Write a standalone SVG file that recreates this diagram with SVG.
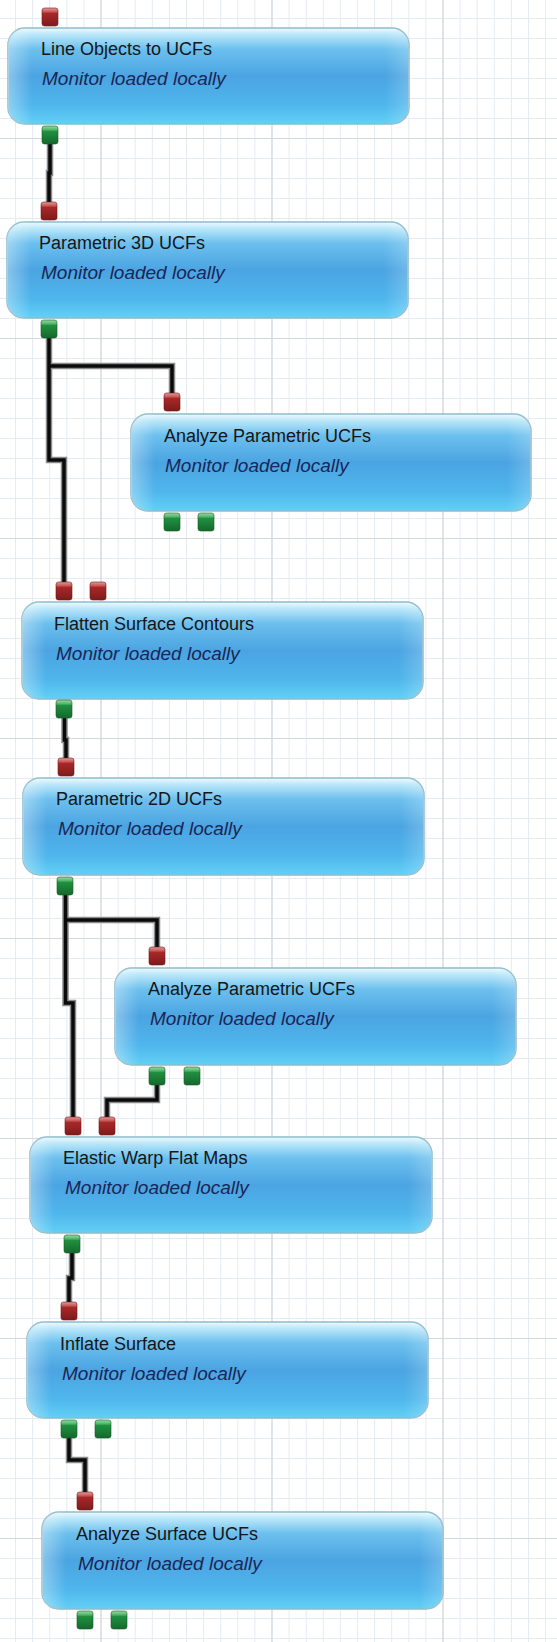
<svg xmlns="http://www.w3.org/2000/svg" width="557" height="1642" viewBox="0 0 557 1642">
  <defs>
    <pattern id="grid" patternUnits="userSpaceOnUse" x="15" y="18" width="17.1" height="20">
      <path d="M0 0.5 H17.1 M0.5 0 V20" stroke="#e4ebf1" stroke-width="1" fill="none"/>
    </pattern>
    <linearGradient id="boxFill" x1="0" y1="0" x2="0" y2="1">
      <stop offset="0" stop-color="#eefafe"/>
      <stop offset="0.07" stop-color="#b9e6f9"/>
      <stop offset="0.22" stop-color="#6cc0ee"/>
      <stop offset="0.5" stop-color="#4ba4e2"/>
      <stop offset="0.8" stop-color="#4fb6ec"/>
      <stop offset="1" stop-color="#62d0f6"/>
    </linearGradient>
    <linearGradient id="boxSide" x1="0" y1="0" x2="1" y2="0">
      <stop offset="0" stop-color="#ffffff" stop-opacity="0.35"/>
      <stop offset="0.06" stop-color="#ffffff" stop-opacity="0"/>
      <stop offset="0.94" stop-color="#ffffff" stop-opacity="0"/>
      <stop offset="1" stop-color="#ffffff" stop-opacity="0.2"/>
    </linearGradient>
    <linearGradient id="redPin" x1="0" y1="0" x2="0" y2="1">
      <stop offset="0" stop-color="#e49a9a"/>
      <stop offset="0.22" stop-color="#c45454"/>
      <stop offset="0.3" stop-color="#a82828"/>
      <stop offset="1" stop-color="#7e1b1b"/>
    </linearGradient>
    <linearGradient id="greenPin" x1="0" y1="0" x2="0" y2="1">
      <stop offset="0" stop-color="#9ad8a4"/>
      <stop offset="0.22" stop-color="#4fb566"/>
      <stop offset="0.3" stop-color="#1f9040"/>
      <stop offset="1" stop-color="#15682c"/>
    </linearGradient>
  </defs>
  <style>
    .box { fill: url(#boxFill); stroke: #8fbccb; stroke-width: 1.5; }
    .sheen { fill: url(#boxSide); stroke: none; }
    .title { font-family: "Liberation Sans", Arial, sans-serif; font-size: 18px; fill: #161616; }
    .sub { font-family: "Liberation Sans", Arial, sans-serif; font-size: 19px; font-style: italic; fill: #1b2656; }
    .pin-in { fill: url(#redPin); stroke: #6e1818; stroke-width: 0.6; }
    .pin-out { fill: url(#greenPin); stroke: #145c27; stroke-width: 0.6; }
    .wire-bg { fill: none; stroke: #8a8a8a; stroke-width: 6.5; stroke-linejoin: miter; }
    .wire { fill: none; stroke: #0a0a0a; stroke-width: 3.5; stroke-linejoin: miter; }
    .major { stroke: #d2d8dd; stroke-width: 1.2; }
  </style>

  <rect x="0" y="0" width="557" height="1642" fill="#ffffff"/>
  <rect x="0" y="0" width="557" height="1642" fill="url(#grid)"/>
  <g id="grid-major">
    <line class="major" x1="101" y1="0" x2="101" y2="1642"/>
    <line class="major" x1="272" y1="0" x2="272" y2="1642"/>
    <line class="major" x1="443" y1="0" x2="443" y2="1642"/>
    <line class="major" x1="0" y1="138.5" x2="557" y2="138.5"/>
    <line class="major" x1="0" y1="338.5" x2="557" y2="338.5"/>
    <line class="major" x1="0" y1="538.5" x2="557" y2="538.5"/>
    <line class="major" x1="0" y1="738.5" x2="557" y2="738.5"/>
    <line class="major" x1="0" y1="938.5" x2="557" y2="938.5"/>
    <line class="major" x1="0" y1="1138.5" x2="557" y2="1138.5"/>
    <line class="major" x1="0" y1="1338.5" x2="557" y2="1338.5"/>
    <line class="major" x1="0" y1="1538.5" x2="557" y2="1538.5"/>
  </g>

  <g id="connectors">
    <path class="wire-bg" d="M50 144 V173 H49 V202"/>
    <path class="wire" d="M50 144 V173 H49 V202"/>
    <path class="wire-bg" d="M49 338 V460 H64 V582 M49 366 H172 V393"/>
    <path class="wire" d="M49 338 V460 H64 V582 M49 366 H172 V393"/>
    <path class="wire-bg" d="M64.5 718 V740 H66 V758"/>
    <path class="wire" d="M64.5 718 V740 H66 V758"/>
    <path class="wire-bg" d="M65.5 895 V1003 H73 V1117 M65.5 920 H157 V947"/>
    <path class="wire" d="M65.5 895 V1003 H73 V1117 M65.5 920 H157 V947"/>
    <path class="wire-bg" d="M157 1085 V1100 H107 V1117"/>
    <path class="wire" d="M157 1085 V1100 H107 V1117"/>
    <path class="wire-bg" d="M72 1252 V1278 H69 V1302"/>
    <path class="wire" d="M72 1252 V1278 H69 V1302"/>
    <path class="wire-bg" d="M69 1438 V1460 H85 V1492"/>
    <path class="wire" d="M69 1438 V1460 H85 V1492"/>
  </g>

  <g id="node-line-objects">
    <rect class="pin-in" x="42" y="8" width="16" height="18" rx="2.5"/>
    <rect class="box" x="8" y="28" width="401" height="96" rx="17"/>
    <rect class="sheen" x="8" y="28" width="401" height="96" rx="17"/>
    <rect class="pin-out" x="42" y="126" width="16" height="18" rx="2.5"/>
    <text class="title" x="41" y="55">Line Objects to UCFs</text>
    <text class="sub" x="42" y="85">Monitor loaded locally</text>
  </g>

  <g id="node-parametric-3d">
    <rect class="pin-in" x="41" y="202" width="16" height="18" rx="2.5"/>
    <rect class="box" x="7" y="222" width="401" height="96" rx="17"/>
    <rect class="sheen" x="7" y="222" width="401" height="96" rx="17"/>
    <rect class="pin-out" x="41" y="320" width="16" height="18" rx="2.5"/>
    <text class="title" x="39" y="249">Parametric 3D UCFs</text>
    <text class="sub" x="41" y="279">Monitor loaded locally</text>
  </g>

  <g id="node-analyze-parametric-1">
    <rect class="pin-in" x="164" y="393" width="16" height="18" rx="2.5"/>
    <rect class="box" x="131" y="414" width="400" height="97" rx="17"/>
    <rect class="sheen" x="131" y="414" width="400" height="97" rx="17"/>
    <rect class="pin-out" x="164" y="513" width="16" height="18" rx="2.5"/>
    <rect class="pin-out" x="198" y="513" width="16" height="18" rx="2.5"/>
    <text class="title" x="164" y="442">Analyze Parametric UCFs</text>
    <text class="sub" x="165" y="472">Monitor loaded locally</text>
  </g>

  <g id="node-flatten">
    <rect class="pin-in" x="56" y="582" width="16" height="18" rx="2.5"/>
    <rect class="pin-in" x="90" y="582" width="16" height="18" rx="2.5"/>
    <rect class="box" x="22" y="602" width="401" height="97" rx="17"/>
    <rect class="sheen" x="22" y="602" width="401" height="97" rx="17"/>
    <rect class="pin-out" x="56" y="700" width="16" height="18" rx="2.5"/>
    <text class="title" x="54" y="630">Flatten Surface Contours</text>
    <text class="sub" x="56" y="660">Monitor loaded locally</text>
  </g>

  <g id="node-parametric-2d">
    <rect class="pin-in" x="58" y="758" width="16" height="18" rx="2.5"/>
    <rect class="box" x="23" y="778" width="401" height="97" rx="17"/>
    <rect class="sheen" x="23" y="778" width="401" height="97" rx="17"/>
    <rect class="pin-out" x="57" y="877" width="16" height="18" rx="2.5"/>
    <text class="title" x="56" y="805">Parametric 2D UCFs</text>
    <text class="sub" x="58" y="835">Monitor loaded locally</text>
  </g>

  <g id="node-analyze-parametric-2">
    <rect class="pin-in" x="149" y="947" width="16" height="18" rx="2.5"/>
    <rect class="box" x="115" y="968" width="401" height="97" rx="17"/>
    <rect class="sheen" x="115" y="968" width="401" height="97" rx="17"/>
    <rect class="pin-out" x="149" y="1067" width="16" height="18" rx="2.5"/>
    <rect class="pin-out" x="184" y="1067" width="16" height="18" rx="2.5"/>
    <text class="title" x="148" y="995">Analyze Parametric UCFs</text>
    <text class="sub" x="150" y="1025">Monitor loaded locally</text>
  </g>

  <g id="node-elastic-warp">
    <rect class="pin-in" x="65" y="1117" width="16" height="18" rx="2.5"/>
    <rect class="pin-in" x="99" y="1117" width="16" height="18" rx="2.5"/>
    <rect class="box" x="30" y="1137" width="402" height="96" rx="17"/>
    <rect class="sheen" x="30" y="1137" width="402" height="96" rx="17"/>
    <rect class="pin-out" x="64" y="1235" width="16" height="18" rx="2.5"/>
    <text class="title" x="63" y="1164">Elastic Warp Flat Maps</text>
    <text class="sub" x="65" y="1194">Monitor loaded locally</text>
  </g>

  <g id="node-inflate">
    <rect class="pin-in" x="61" y="1302" width="16" height="18" rx="2.5"/>
    <rect class="box" x="27" y="1322" width="401" height="96" rx="17"/>
    <rect class="sheen" x="27" y="1322" width="401" height="96" rx="17"/>
    <rect class="pin-out" x="61" y="1420" width="16" height="18" rx="2.5"/>
    <rect class="pin-out" x="95" y="1420" width="16" height="18" rx="2.5"/>
    <text class="title" x="60" y="1350">Inflate Surface</text>
    <text class="sub" x="62" y="1380">Monitor loaded locally</text>
  </g>

  <g id="node-analyze-surface">
    <rect class="pin-in" x="77" y="1492" width="16" height="18" rx="2.5"/>
    <rect class="box" x="42" y="1512" width="401" height="97" rx="17"/>
    <rect class="sheen" x="42" y="1512" width="401" height="97" rx="17"/>
    <rect class="pin-out" x="77" y="1611" width="16" height="18" rx="2.5"/>
    <rect class="pin-out" x="111" y="1611" width="16" height="18" rx="2.5"/>
    <text class="title" x="76" y="1540">Analyze Surface UCFs</text>
    <text class="sub" x="78" y="1570">Monitor loaded locally</text>
  </g>
</svg>
